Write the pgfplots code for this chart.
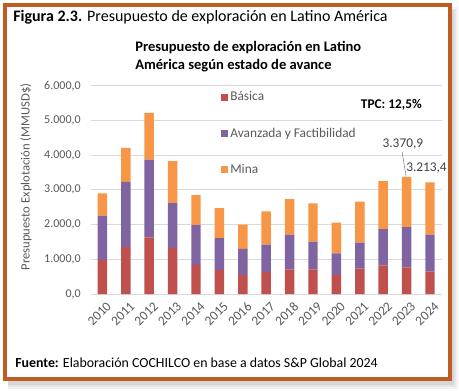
\documentclass[border=0pt]{standalone}
\usepackage{pgfplots}
\pgfplotsset{compat=1.18}
\usepackage{fontspec}
\setmainfont{Carlito}
\definecolor{cred}{HTML}{C0504D}
\definecolor{cpur}{HTML}{8064A2}
\definecolor{cora}{HTML}{F79646}
\definecolor{framec}{HTML}{C25A24}
\definecolor{gridc}{HTML}{D9D9D9}
\definecolor{textc}{HTML}{595959}
\definecolor{labc}{HTML}{404040}
\pgfplotstableread{
x B A M
0 980 1275 645
1 1350 1880 980
2 1630 2240 1350
3 1320 1300 1210
4 835 1150 865
5 690 920 865
6 550 750 700
7 635 785 960
8 710 1000 1020
9 710 800 1100
10 550 620 885
11 730 750 1180
12 825 1045 1385
13 770 1160 1440.9
14 655 1055 1503.4
}\data
\begin{document}
\begin{tikzpicture}[x=0.75pt,y=0.75pt]
\path[use as bounding box] (0,0) rectangle (459,390);
\fill[black!5] (8,1) rectangle (458,383);
\fill[black!10] (8,3) rectangle (456,381);
\fill[black!16] (8,5) rectangle (454,380);
\fill[white] (5,11.5) rectangle (449.5,384.5);
\draw[line width=3pt, framec] (5,11.5) rectangle (449.5,384.5);
\node[anchor=west, font=\fontsize{12}{14}\selectfont, inner sep=0pt] at (13,373) {\textbf{Figura 2.3.} Presupuesto de exploración en Latino América};
\node[anchor=north west, align=left, font=\fontsize{10.9}{13.5}\selectfont\bfseries, inner sep=0pt] at (135,349) {Presupuesto de exploración en Latino\\América según estado de avance};
\node[rotate=90, font=\fontsize{9.5}{11}\selectfont, text=textc] at (26,213) {Presupuesto Explotación (MMUSD\$)};
\node[anchor=west, font=\fontsize{10.4}{12}\selectfont, inner sep=0pt] at (15,27) {\textbf{Fuente:} Elaboración COCHILCO en base a datos S\&P Global 2024};
\begin{axis}[
  at={(68.03pt,72pt)}, anchor=south west, scale only axis,
  width=263.25pt, height=156.2pt, clip=false,
  ybar stacked, bar width=7.1pt,
  xmin=-0.5, xmax=14.5, ymin=0, ymax=6000,
  ytick={0,1000,...,6000},
  xtick={0,...,14},
  xticklabels={2010,2011,2012,2013,2014,2015,2016,2017,2018,2019,2020,2021,2022,2023,2024},
  ymajorgrids, grid style={color=gridc, line width=0.7pt},
  axis line style={draw=none},
  major tick length=0pt,
  tick label style={font=\fontsize{9}{11}\selectfont, text=textc},
  yticklabel style={xshift=-4pt},
  xticklabel style={font=\fontsize{10}{12}\selectfont, rotate=45, anchor=east, xshift=1.5pt, yshift=-9pt},
  /pgf/number format/.cd, fixed, fixed zerofill, precision=1, 1000 sep={.}, dec sep={,}, assume math mode=true,
  /pgfplots/.cd,
  legend style={at={(axis description cs:0.37,0.985)}, anchor=north west, draw=none, fill=none,
    font=\fontsize{10}{12}\selectfont, text=textc, row sep=14.6pt, inner sep=0pt},
  legend cell align=left,
  legend image code/.code={\fill[#1] (0cm,-0.09cm) rectangle (0.18cm,0.09cm);},
]
\addplot[fill=cred, draw=none] table[x=x,y=B] {\data};
\addplot[fill=cpur, draw=none] table[x=x,y=A] {\data};
\addplot[fill=cora, draw=none] table[x=x,y=M] {\data};
\legend{Básica, Avanzada y Factibilidad, Mina}
\node[font=\fontsize{10}{12}\selectfont\bfseries] at (axis cs:12.35,5444) {TPC: 12,5\%};
\node[font=\fontsize{10}{12}\selectfont, text=labc] at (axis cs:12.84,4330) {3.370,9};
\node[font=\fontsize{10}{12}\selectfont, text=labc] at (axis cs:13.85,3629) {3.213,4};
\draw[gray, line width=0.4pt] (axis cs:12.81,4087) -- (axis cs:12.98,3379);
\end{axis}
\end{tikzpicture}
\end{document}
